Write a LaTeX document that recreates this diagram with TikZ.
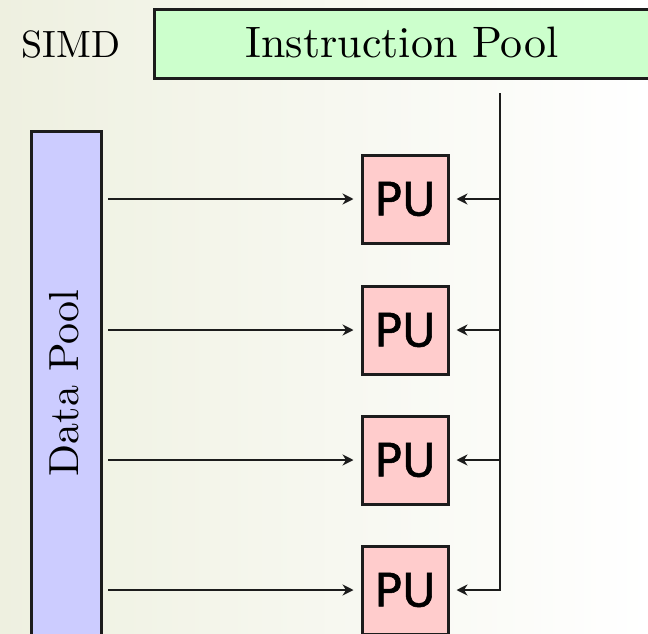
\documentclass[tikz,border=0pt]{standalone}
\usepackage{fontspec}
\usepackage{graphicx}
\newfontfamily\pufont[FakeBold=1.2]{DejaVu Sans}
\usetikzlibrary{arrows.meta}
\definecolor{bgleft}{RGB}{238,240,224}
\definecolor{bgmid}{RGB}{247,248,240}
\definecolor{ipfill}{RGB}{204,255,204}
\definecolor{dpfill}{RGB}{204,204,255}
\definecolor{pufill}{RGB}{255,204,204}
\definecolor{linec}{RGB}{28,28,28}
\tikzset{
  box/.style={draw=linec, line width=3pt, inner sep=0pt},
  pubox/.style={box, fill=pufill, minimum width=86pt, minimum height=88pt, font=\pufont\fontsize{46}{46}\selectfont},
  wire/.style={draw=linec, line width=2.8pt},
  conn/.style={wire, -{Stealth[length=11pt,width=11pt]}, shorten >=7pt},
  lbl/.style={inner sep=0pt, font=\fontsize{10}{12}\selectfont},
}
\begin{document}
\begin{tikzpicture}[x=1pt,y=-1pt]
\useasboundingbox (0,0) rectangle (648,634);
\shade[left color=bgleft, middle color=bgmid, right color=white] (0,0) rectangle (648,634);
\begin{scope}
\clip (0,0) rectangle (648,634);
\node[box, fill=ipfill, anchor=north west, minimum width=520pt, minimum height=69pt] (ip) at (153,8) {};
\node[lbl] (iptext) at (402,42) {\scalebox{4.4}{Instruction Pool}};
\node[lbl] (simd) at (71,45) {\scalebox{3.8}{SIMD}};
\node[box, fill=dpfill, anchor=north west, minimum width=70pt, minimum height=520pt] (dp) at (30,130) {};
\node[lbl, rotate=90] (dptext) at (64,383) {\scalebox{4.2}{Data Pool}};
\foreach \i/\y in {1/199,2/330,3/460,4/590} {
  \node[pubox] (pu\i) at (405,\y) {PU};
  \coordinate (src\i) at (108,\y);
  \coordinate (bus\i) at (500,\y);
  \draw[conn] (src\i) -- (pu\i.west);
}
\coordinate (bustop) at (500,93);
\draw[conn] (bustop) |- (pu4.east);
\foreach \i in {1,2,3} {
  \draw[conn] (bus\i) -- (pu\i.east);
}
\end{scope}
\end{tikzpicture}
\end{document}
